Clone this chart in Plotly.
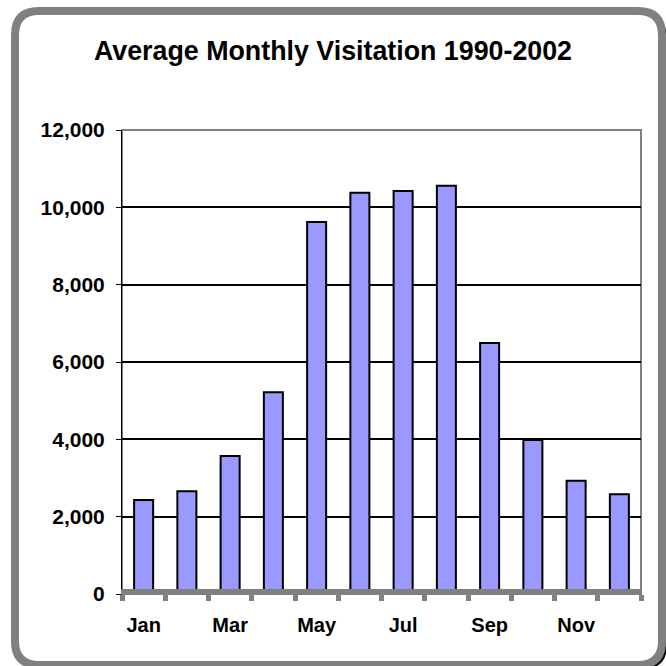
import plotly.graph_objects as go

months = ["Jan", "Feb", "Mar", "Apr", "May", "Jun", "Jul", "Aug", "Sep", "Oct", "Nov", "Dec"]
visits = [2430, 2660, 3570, 5220, 9620, 10380, 10420, 10560, 6490, 3980, 2930, 2580]
tick_labels = ["Jan", "", "Mar", "", "May", "", "Jul", "", "Sep", "", "Nov", ""]
y_ticks = [0, 2000, 4000, 6000, 8000, 10000, 12000]
y_tick_labels = ["0", "2,000", "4,000", "6,000", "8,000", "10,000", "12,000"]

W, H = 666, 666
L, R, T, B = 122, 641, 130, 594
PW, PH = R - L, B - T
FONT = "Liberation Sans, Arial, sans-serif"

def px(x):
    return (x - L) / PW

def py(y):
    return (B - y) / PH

def rrect(x0, y0, x1, y1, r):
    pts = [
        ("M", [(x0 + r, y0)]),
        ("L", [(x1 - r, y0)]),
        ("Q", [(x1, y0), (x1, y0 + r)]),
        ("L", [(x1, y1 - r)]),
        ("Q", [(x1, y1), (x1 - r, y1)]),
        ("L", [(x0 + r, y1)]),
        ("Q", [(x0, y1), (x0, y1 - r)]),
        ("L", [(x0, y0 + r)]),
        ("Q", [(x0, y0), (x0 + r, y0)]),
    ]
    s = ""
    for cmd, ps in pts:
        s += cmd + " " + " ".join(f"{px(a):.5f},{py(b):.5f}" for a, b in ps) + " "
    return s + "Z"

fig = go.Figure()
fig.add_trace(go.Bar(
    x=months, y=visits,
    marker=dict(color="#9999FF", line=dict(color="black", width=2)),
    hoverinfo="skip",
))

shapes = [
    dict(type="path", path=rrect(19, 15, 667, 669, 24), xref="paper", yref="paper",
         fillcolor="black", line=dict(width=0), layer="below"),
    dict(type="path", path=rrect(15, 11, 662, 665, 24), xref="paper", yref="paper",
         fillcolor="white", line=dict(color="#808080", width=8), layer="below"),
    dict(type="rect", x0=0, x1=1, y0=0, y1=1, xref="paper", yref="paper",
         line=dict(color="#808080", width=2), layer="below"),
    # floor of the category axis
    dict(type="line", x0=px(L - 1), x1=px(R + 1), y0=py(591.5), y1=py(591.5),
         xref="paper", yref="paper", line=dict(color="#808080", width=5), layer="above"),
]

fig.update_layout(
    width=W, height=H,
    margin=dict(l=L, r=W - R, t=T, b=H - B, pad=0, autoexpand=False),
    paper_bgcolor="white", plot_bgcolor="rgba(0,0,0,0)",
    bargap=0.56,
    showlegend=False,
    font=dict(family=FONT, color="black"),
    title=dict(text="<b>Average Monthly Visitation 1990-2002</b>", x=0.5, xanchor="center",
               xref="container", y=1 - 50.5 / H, yanchor="middle",
               font=dict(size=26.8, color="black", family=FONT)),
    shapes=shapes,
    xaxis=dict(
        type="category", tickmode="array", tickvals=months,
        ticktext=[f"<b>{t}</b>" if t else "" for t in tick_labels],
        tickson="boundaries", ticks="outside", ticklen=6, tickwidth=5, tickcolor="#808080",
        showline=False, tickangle=0, automargin=False,
        showgrid=False, tickfont=dict(size=20, color="black", family=FONT),
        ticklabelstandoff=17,
    ),
    yaxis=dict(
        range=[0, 12000], tickmode="array", tickvals=y_ticks,
        ticktext=[f"<b>{t}</b>" for t in y_tick_labels],
        ticks="outside", ticklen=5, tickwidth=1, tickcolor="black", automargin=False,
        showline=True, linecolor="black", linewidth=1,
        showgrid=True, gridcolor="black", gridwidth=2, zeroline=False,
        tickfont=dict(size=21, color="black", family=FONT),
        ticklabelstandoff=7,
    ),
)

fig.write_html(
    "out.html",
    config={"displayModeBar": False},
    post_script="document.body.style.margin='0';document.body.style.overflow='hidden';",
)
